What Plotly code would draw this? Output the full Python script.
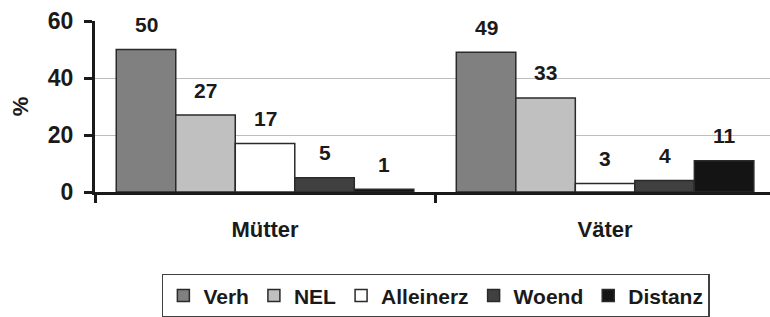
import plotly.graph_objects as go

categories = ["Mütter", "Väter"]
series = ["Verh", "NEL", "Alleinerz", "Woend", "Distanz"]
values = {
    "Verh": [50, 49],
    "NEL": [27, 33],
    "Alleinerz": [17, 3],
    "Woend": [5, 4],
    "Distanz": [1, 11],
}
colors = {
    "Verh": "#808080",
    "NEL": "#c0c0c0",
    "Alleinerz": "#ffffff",
    "Woend": "#404040",
    "Distanz": "#141414",
}
yticks = [0, 20, 40, 60]

FONT = "Liberation Sans, Arial, sans-serif"
BW = 0.175

fig = go.Figure()
annotations = []
for j, s in enumerate(series):
    xs = [i + (j - 2) * BW for i in range(len(categories))]
    fig.add_trace(go.Bar(
        x=xs, y=values[s], name=f"<b>{s}</b>", width=BW,
        marker=dict(color=colors[s], line=dict(color="#2a2a2a", width=1.5)),
    ))
    for x, v in zip(xs, values[s]):
        annotations.append(dict(
            x=x, y=v, xref="x", yref="y", text=f"<b>{v}</b>", showarrow=False,
            yanchor="middle", yshift=25,
            font=dict(family=FONT, size=21, color="#1a1a1a"),
        ))

fig.update_layout(
    width=770, height=317,
    margin=dict(l=95, r=0, t=21, b=125),
    paper_bgcolor="white", plot_bgcolor="white",
    barmode="overlay",
    showlegend=True,
    legend=dict(
        orientation="h", x=0.505, xanchor="center",
        yref="container", y=0.136, yanchor="top",
        bordercolor="#404040", borderwidth=1.5,
        font=dict(family=FONT, size=21, color="#1a1a1a"),
        itemwidth=30, traceorder="normal", tracegroupgap=0,
    ),
    annotations=annotations,
    font=dict(family=FONT, color="#1a1a1a"),
)
fig.update_xaxes(
    range=[-0.5, 1.485], automargin=False,
    tickvals=list(range(len(categories))),
    ticktext=[f"<b>{c}</b>" for c in categories],
    ticks="", tickfont=dict(family=FONT, size=22, color="#1a1a1a"),
    ticklabelstandoff=16,
    showline=True, linecolor="#1a1a1a", linewidth=3,
    showgrid=False, zeroline=False,
    minor=dict(tickvals=[-0.5, 0.5, 1.5], ticks="outside", ticklen=8,
               tickwidth=3, tickcolor="#1a1a1a", showgrid=False),
)
fig.update_yaxes(
    range=[0, 60], tickvals=yticks, automargin=False,
    ticktext=[f"<b>{t}</b>" for t in yticks],
    ticks="outside", ticklen=8, tickwidth=3, tickcolor="#1a1a1a",
    tickfont=dict(family=FONT, size=23, color="#1a1a1a"),
    ticklabelstandoff=6,
    showline=True, linecolor="#1a1a1a", linewidth=3,
    showgrid=True, gridcolor="#bdbdbd", gridwidth=1,
    zeroline=False,
    title=dict(text="<b>%</b>", font=dict(family=FONT, size=22, color="#1a1a1a"), standoff=14),
)
fig.write_html("out.html", config={"displayModeBar": False},
               post_script="document.body.style.margin='0';")
